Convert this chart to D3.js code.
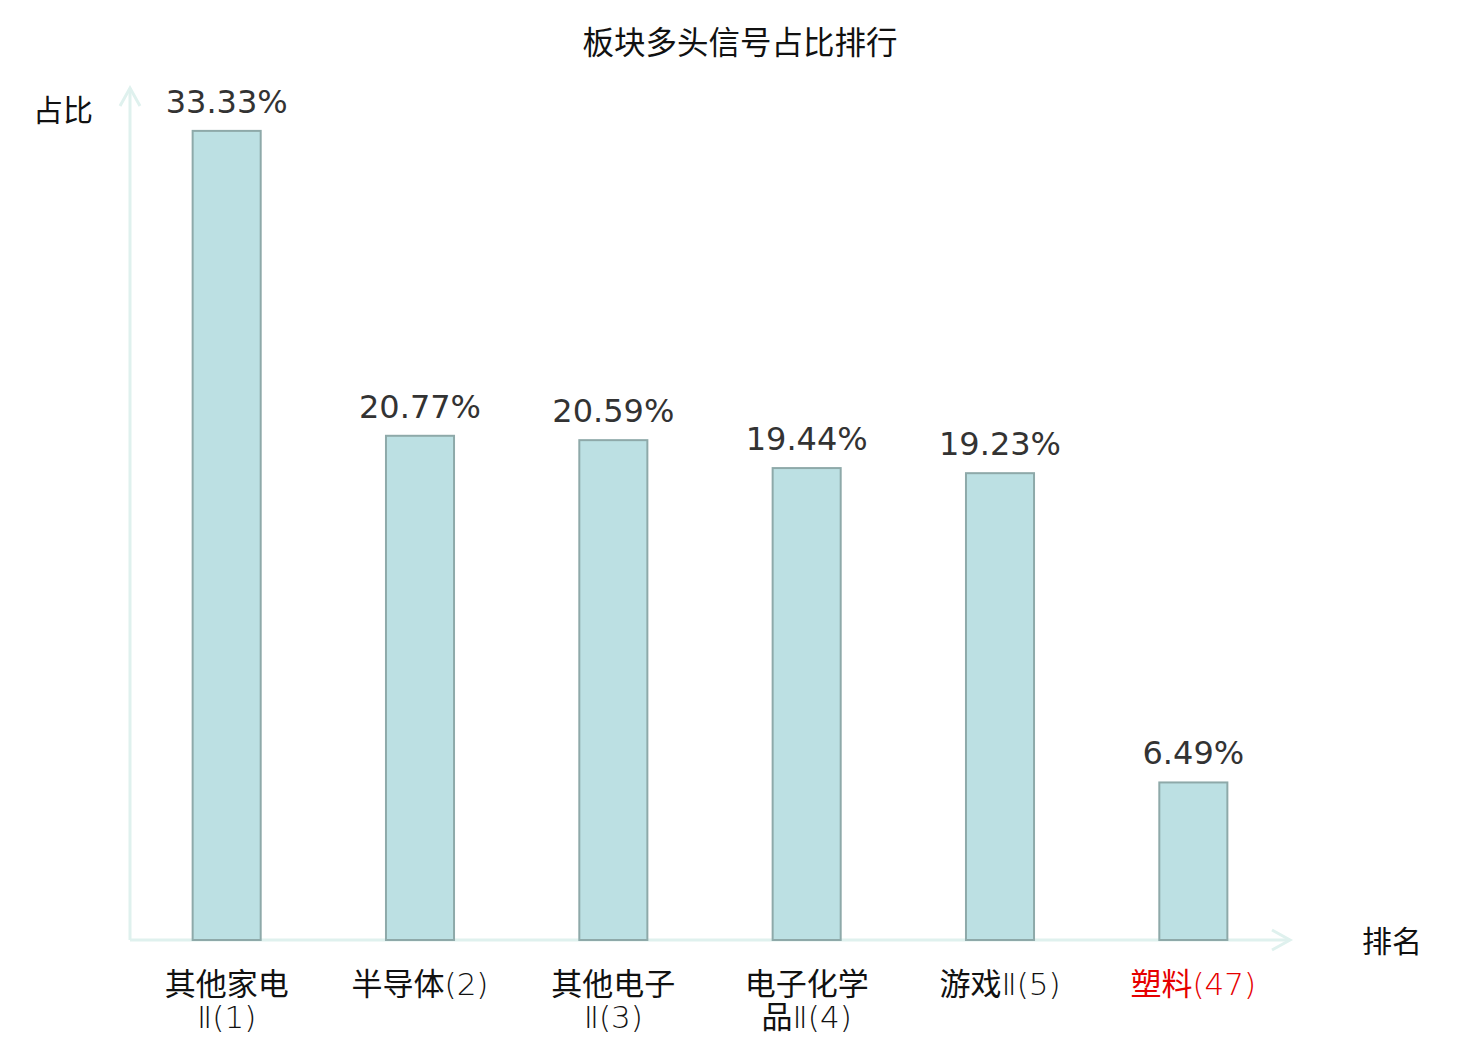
<!DOCTYPE html>
<html>
<head>
<meta charset="utf-8">
<script src="https://cdn.jsdelivr.net/npm/d3@7"></script>
<style>
  body { margin: 0; background: #fff; }
  text { font-family: "DejaVu Sans", "Noto Sans CJK SC", sans-serif; }
</style>
</head>
<body>
<svg id="chart"></svg>
<script>
var dimensions = {
  width: 1480,
  height: 1040,
  margin: { top: 88, bottom: 100, left: 130, right: 190 }
}

// data
var categories = ["其他家电Ⅱ(1)", "半导体(2)", "其他电子Ⅱ(3)", "电子化学品Ⅱ(4)", "游戏Ⅱ(5)", "塑料(47)"]
var tickLines = [["其他家电", "Ⅱ(1)"], ["半导体(2)"], ["其他电子", "Ⅱ(3)"], ["电子化学", "品Ⅱ(4)"], ["游戏Ⅱ(5)"], ["塑料(47)"]]
var shares = [33.33, 20.77, 20.59, 19.44, 19.23, 6.49]
var highlight = ["塑料(47)"]
var title = "板块多头信号占比排行"

var width = dimensions.width, height = dimensions.height, margin = dimensions.margin
var axisColor = "#dff1ee"

var svg = d3.select("#chart")
  .attr("width", width)
  .attr("height", height)

var xScale = d3.scaleBand()
  .domain(categories)
  .range([margin.left, width - margin.right])
  .paddingInner(0.648)
  .paddingOuter(0.324)

var yScale = d3.scaleLinear()
  .domain([0, d3.max(shares) * 1.053])
  .range([height - margin.bottom, margin.top])

// title
svg.append("text")
  .attr("x", width / 2)
  .attr("y", 54)
  .attr("text-anchor", "middle")
  .style("font-size", "31.5px")
  .style("fill", "#111")
  .text(title)

// axes with arrow heads
var y0 = yScale(0)
svg.append("line")
  .attr("x1", margin.left).attr("y1", y0)
  .attr("x2", margin.left).attr("y2", margin.top)
  .attr("stroke", axisColor).attr("stroke-width", 3)
svg.append("path")
  .attr("d", "M" + (margin.left - 10) + "," + (margin.top + 18) + "L" + margin.left + "," + margin.top + "L" + (margin.left + 10) + "," + (margin.top + 18))
  .attr("fill", "none").attr("stroke", axisColor).attr("stroke-width", 3)

var xEnd = width - margin.right
svg.append("line")
  .attr("x1", margin.left).attr("y1", y0)
  .attr("x2", xEnd).attr("y2", y0)
  .attr("stroke", axisColor).attr("stroke-width", 3)
svg.append("path")
  .attr("d", "M" + (xEnd - 18) + "," + (y0 - 10) + "L" + xEnd + "," + y0 + "L" + (xEnd - 18) + "," + (y0 + 10))
  .attr("fill", "none").attr("stroke", axisColor).attr("stroke-width", 3)

// axis names
svg.append("text")
  .attr("x", 63).attr("y", 121)
  .attr("text-anchor", "middle")
  .style("font-size", "30px").style("fill", "#111")
  .text("占比")
svg.append("text")
  .attr("x", 1392).attr("y", 952)
  .attr("text-anchor", "middle")
  .style("font-size", "30px").style("fill", "#111")
  .text("排名")

// bars
svg.append("g")
  .selectAll("rect")
  .data(shares)
  .enter()
  .append("rect")
  .attr("x", (d, i) => xScale(categories[i]))
  .attr("y", d => yScale(d))
  .attr("width", xScale.bandwidth())
  .attr("height", d => y0 - yScale(d))
  .attr("fill", "#bce0e3")
  .attr("stroke", "#8ea9a9")
  .attr("stroke-width", 2)

// value labels
svg.append("g")
  .selectAll("text")
  .data(shares)
  .enter()
  .append("text")
  .attr("x", (d, i) => xScale(categories[i]) + xScale.bandwidth() / 2)
  .attr("y", d => yScale(d) - 18)
  .attr("text-anchor", "middle")
  .style("font-size", "32px")
  .style("fill", "#333")
  .text(d => d.toFixed(2) + "%")

// category labels (latin part in the thin face, like the original)
var ticks = svg.append("g")
  .selectAll("text")
  .data(categories)
  .enter()
  .append("text")
  .attr("text-anchor", "middle")
  .style("font-size", "31px")
  .style("fill", d => highlight.includes(d) ? "#e60000" : "#111")

ticks.each(function(d, i) {
  var t = d3.select(this)
  tickLines[i].forEach(function(line, j) {
    var runs = line.match(/[\u4e00-\u9fff]+|[^\u4e00-\u9fff]+/g)
    runs.forEach(function(r, k) {
      var s = t.append("tspan").text(r)
        .style("font-weight", /[\u4e00-\u9fff]/.test(r) ? 400 : 200)
      if (k == 0) s.attr("x", xScale(d) + xScale.bandwidth() / 2).attr("y", 995 + j * 33)
    })
  })
})
</script>
</body>
</html>
